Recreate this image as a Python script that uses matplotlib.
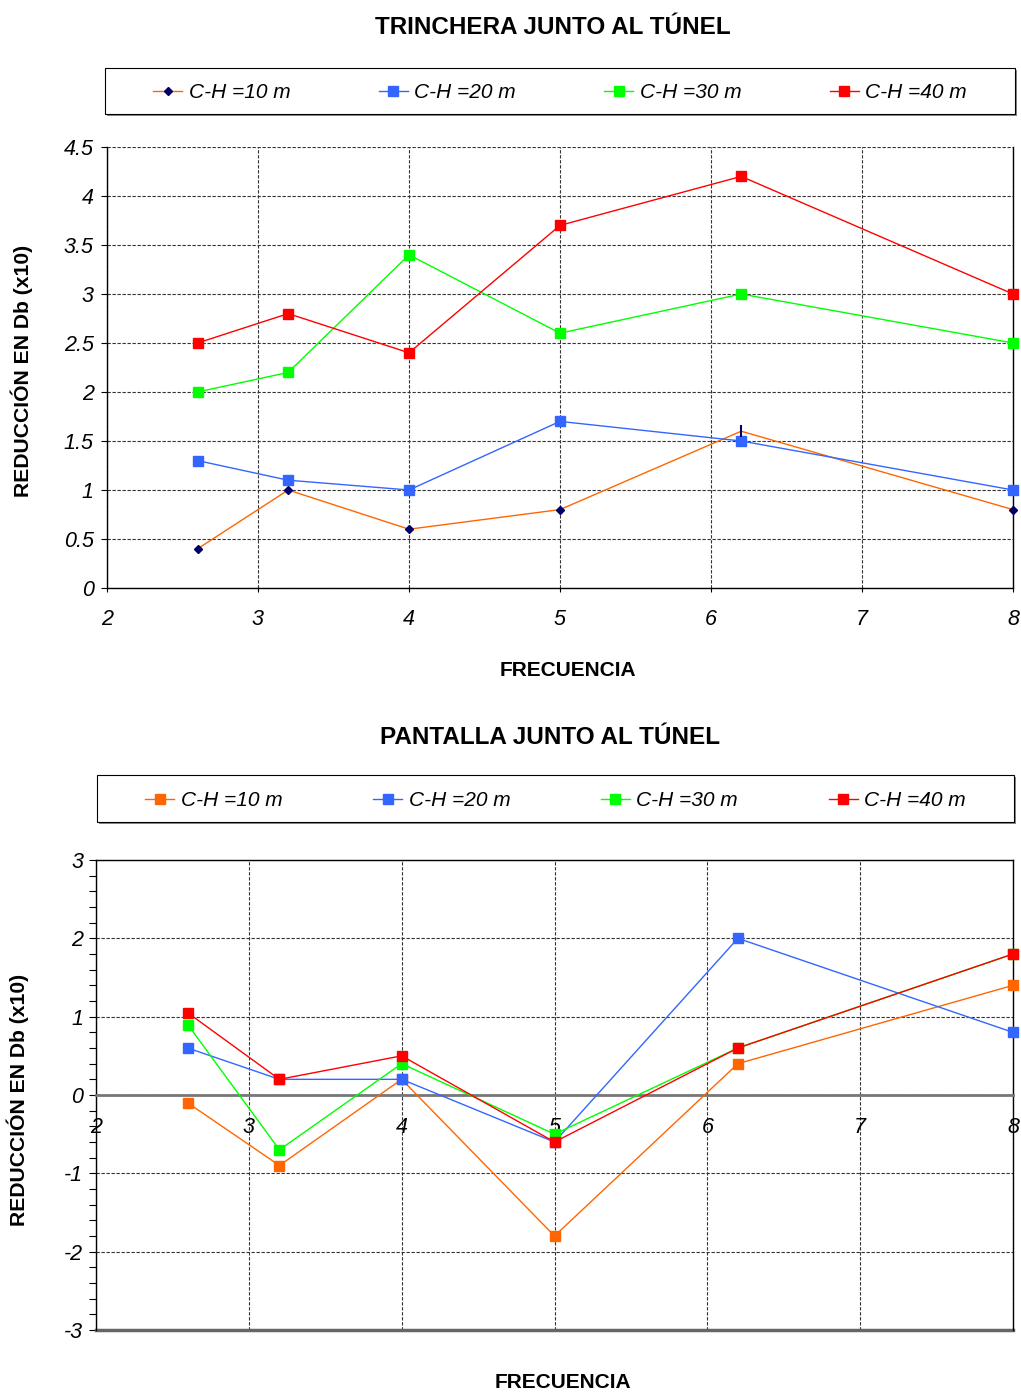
import matplotlib

matplotlib.use("Agg")
import matplotlib.pyplot as plt
import matplotlib.ticker as mticker
from matplotlib.patches import Rectangle

plt.rcParams["font.family"] = "Liberation Sans"
plt.rcParams["axes.unicode_minus"] = False

# frequencies shared by both charts
freq = [2.6, 3.2, 4, 5, 6.2, 8]
labels = ["C-H =10 m", "C-H =20 m", "C-H =30 m", "C-H =40 m"]

# TRINCHERA JUNTO AL TUNEL
trinchera_10 = [0.4, 1.0, 0.6, 0.8, 1.6, 0.8]
trinchera_20 = [1.3, 1.1, 1.0, 1.7, 1.5, 1.0]
trinchera_30 = [2.0, 2.2, 3.4, 2.6, 3.0, 2.5]
trinchera_40 = [2.5, 2.8, 2.4, 3.7, 4.2, 3.0]

# PANTALLA JUNTO AL TUNEL
pantalla_10 = [-0.1, -0.9, 0.2, -1.8, 0.4, 1.4]
pantalla_20 = [0.6, 0.2, 0.2, -0.6, 2.0, 0.8]
pantalla_30 = [0.9, -0.7, 0.4, -0.5, 0.6, 1.8]
pantalla_40 = [1.05, 0.2, 0.5, -0.6, 0.6, 1.8]

ORANGE = "#FF6600"
BLUE = "#3366FF"
GREEN = "#00FF00"
RED = "#FF0000"
NAVY = "#000066"

W, H = 1021, 1394
fig = plt.figure(figsize=(W / 100, H / 100), dpi=100)


def fx(px):
    return px / W


def fy(py):
    return 1 - py / H


def _grid(ax):
    ax.grid(True, which="major", color="#333333", linestyle=(0, (3, 1.5)), linewidth=0.8, zorder=0)
    ax.set_axisbelow(True)


def _legend_box(fig, x0, y0, x1, y1, handles, fontsize):
    # frame with a soft shadow, drawn apart from the legend itself
    fig.add_artist(Rectangle((fx(x0 + 2), fy(y1 + 2)), fx(x1 - x0), (y1 - y0) / H,
                             transform=fig.transFigure, facecolor="#888888", edgecolor="none", zorder=1))
    fig.add_artist(Rectangle((fx(x0), fy(y1)), fx(x1 - x0), (y1 - y0) / H,
                             transform=fig.transFigure, facecolor="white", edgecolor="black",
                             linewidth=0.8, zorder=2))
    leg = fig.legend(handles, labels, loc="center", ncol=4, mode="expand", frameon=False,
                     bbox_to_anchor=(fx(x0 + 40), fy(y1 + 2), fx(x1 - x0 - 80), (y1 - y0) / H),
                     bbox_transform=fig.transFigure,
                     prop={"style": "italic", "size": fontsize},
                     handlelength=1.4, handletextpad=0.3, borderaxespad=0)
    leg.set_zorder(3)


# ---------------- top chart ----------------
ax1 = fig.add_axes([fx(107), fy(588), fx(1013 - 107), (588 - 147) / H])
l10, = ax1.plot(freq, trinchera_10, color=ORANGE, linewidth=1.0, marker="D", markersize=4.5,
                markerfacecolor=NAVY, markeredgecolor=NAVY, markevery=[0, 1, 2, 3, 5], zorder=3)
ax1.plot(freq[4], trinchera_10[4], marker="|", markersize=9, color=NAVY, markeredgewidth=1.5, zorder=4)
l20, = ax1.plot(freq, trinchera_20, color=BLUE, linewidth=1.0, marker="s", markersize=6.5, zorder=3)
l30, = ax1.plot(freq, trinchera_30, color=GREEN, linewidth=1.0, marker="s", markersize=6.5, zorder=3)
l40, = ax1.plot(freq, trinchera_40, color=RED, linewidth=1.0, marker="s", markersize=6.5, zorder=3)
for ln in (l10, l20, l30, l40):
    ln.set_clip_on(False)
ax1.set_xlim(2, 8)
ax1.set_ylim(0, 4.5)
ax1.set_xticks(range(2, 9))
ax1.set_yticks([i * 0.5 for i in range(10)])
ax1.yaxis.set_major_formatter(mticker.FuncFormatter(lambda v, _: f"{v:g}"))
_grid(ax1)
ax1.spines["top"].set_visible(False)
for s in ("left", "bottom", "right"):
    ax1.spines[s].set_color("black")
    ax1.spines[s].set_linewidth(1.0)
ax1.tick_params(axis="y", length=4.5, width=0.8, pad=5, labelsize=15.5)
ax1.tick_params(axis="x", length=3, width=0.8, pad=12, labelsize=15.5)
for t in ax1.get_xticklabels() + ax1.get_yticklabels():
    t.set_fontstyle("italic")

fig.text(fx(553), fy(27), "TRINCHERA JUNTO AL TÚNEL", ha="center", va="center",
         fontsize=17.5, fontweight="bold")
fig.text(fx(568), fy(670), "FRECUENCIA", ha="center", va="center", fontsize=15, fontweight="bold")
fig.text(fx(22), fy(371), "REDUCCIÓN EN Db (x10)", ha="center", va="center", rotation=90,
         fontsize=15.2, fontweight="bold")

_legend_box(fig, 105, 68, 1015, 114, [l10, l20, l30, l40], 15)

# ---------------- bottom chart ----------------
ax2 = fig.add_axes([fx(96), fy(1330), fx(1013 - 96), (1330 - 860) / H])
p10, = ax2.plot(freq, pantalla_10, color=ORANGE, linewidth=1.0, marker="s", markersize=6.5, zorder=3)
p20, = ax2.plot(freq, pantalla_20, color=BLUE, linewidth=1.0, marker="s", markersize=6.5, zorder=3)
p30, = ax2.plot(freq, pantalla_30, color=GREEN, linewidth=1.0, marker="s", markersize=6.5, zorder=3)
p40, = ax2.plot(freq, pantalla_40, color=RED, linewidth=1.0, marker="s", markersize=6.5, zorder=3)
for ln in (p10, p20, p30, p40):
    ln.set_clip_on(False)
ax2.set_xlim(2, 8)
ax2.set_ylim(-3, 3)
ax2.set_xticks(range(2, 9))
ax2.set_yticks(range(-3, 4))
ax2.yaxis.set_minor_locator(mticker.MultipleLocator(0.2))
_grid(ax2)
ax2.axhline(-3, color="#666666", linewidth=2.5, zorder=2, clip_on=False)
ax2.spines["bottom"].set_position(("data", 0))
ax2.spines["bottom"].set_color("#777777")
ax2.spines["bottom"].set_linewidth(2.0)
for s in ("left", "top", "right"):
    ax2.spines[s].set_color("black")
    ax2.spines[s].set_linewidth(1.0)
ax2.tick_params(axis="y", which="both", length=5, width=0.8, pad=4, labelsize=15.5)
ax2.tick_params(axis="x", length=0, pad=16, labelsize=15.5)
for t in ax2.get_xticklabels() + ax2.get_yticklabels():
    t.set_fontstyle("italic")

fig.text(fx(550), fy(738), "PANTALLA JUNTO AL TÚNEL", ha="center", va="center",
         fontsize=17.5, fontweight="bold")
fig.text(fx(563), fy(1383), "FRECUENCIA", ha="center", va="center", fontsize=15, fontweight="bold")
fig.text(fx(18), fy(1100), "REDUCCIÓN EN Db (x10)", ha="center", va="center", rotation=90,
         fontsize=15.2, fontweight="bold")

_legend_box(fig, 97, 775, 1014, 822, [p10, p20, p30, p40], 15)

fig.savefig("out.png", dpi=100)
